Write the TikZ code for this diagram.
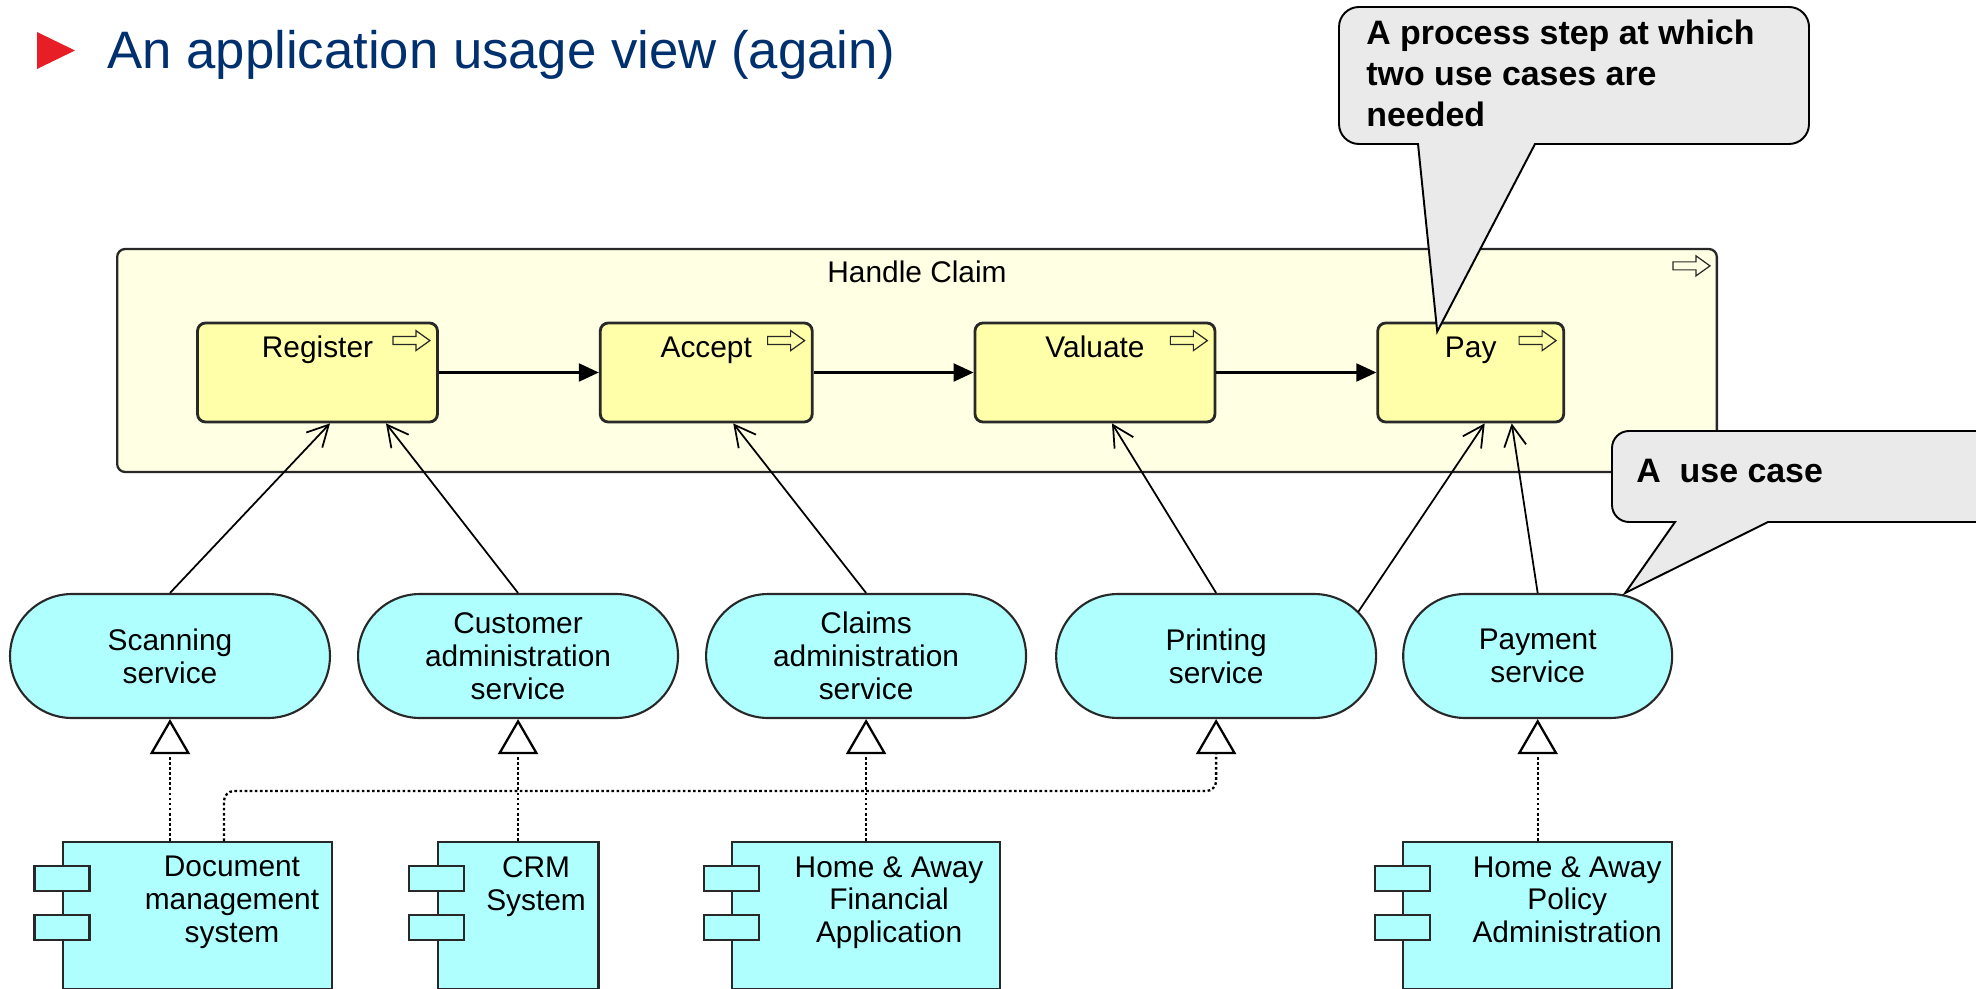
\documentclass[tikz,border=0pt]{standalone}
\usepackage{fontspec}
\setmainfont{Liberation Sans}
\usetikzlibrary{arrows.meta, positioning, calc}

\definecolor{titleblue}{RGB}{0,48,110}
\definecolor{bulletred}{RGB}{232,30,38}
\definecolor{procyellow}{RGB}{255,255,170}
\definecolor{groupyellow}{RGB}{255,255,228}
\definecolor{appcyan}{RGB}{175,255,255}
\definecolor{notegrey}{RGB}{234,234,234}
\definecolor{edgedark}{RGB}{40,40,40}

\newcommand{\diagfont}{\fontsize{17pt}{18.7pt}\selectfont}
\newcommand{\notefont}{\fontsize{19.3pt}{23.2pt}\selectfont\bfseries}

\tikzstyle{groupbox} = [rectangle, rounded corners=0.16cm, draw=edgedark, line width=1.3pt, fill=groupyellow, minimum width=32cm, minimum height=4.46cm]
\tikzstyle{stepbox} = [rectangle, rounded corners=0.16cm, draw=edgedark, line width=1.6pt, fill=procyellow, minimum height=1.98cm]
\tikzstyle{servicebox} = [rectangle, rounded corners=1.24cm, draw=edgedark, line width=1.2pt, fill=appcyan, minimum width=6.4cm, minimum height=2.48cm, align=center, font=\diagfont]
\tikzstyle{appbox} = [rectangle, draw=edgedark, line width=1.2pt, fill=appcyan, minimum height=2.94cm]
\tikzstyle{apptab} = [rectangle, draw=edgedark, line width=1.2pt, fill=appcyan, minimum width=1.1cm, minimum height=0.5cm, inner sep=0pt]
\tikzstyle{boxtext} = [inner sep=0pt, align=center, font=\diagfont]
\tikzstyle{notebox} = [draw=black, line width=1.1pt, fill=notegrey]
\tikzstyle{notetext} = [inner sep=0pt, anchor=north west, align=left, font=\notefont]
\tikzstyle{flow} = [line width=1.2pt, -{Triangle[length=0.4cm, width=0.36cm]}]
\tikzstyle{serves} = [line width=1pt, -{Straight Barb[length=0.42cm, width=0.44cm]}]
\tikzstyle{realizes} = [line width=1.3pt, dash pattern=on 1.5pt off 1.4pt, -{Triangle[open, length=0.7cm, width=0.8cm, fill=white]}]
\tikzset{procicon/.pic={\draw[line width=0.7pt, edgedark] (-37,6) -- (-14,6) -- (-14,0) -- (0,10) -- (-14,20) -- (-14,14) -- (-37,14) -- cycle;}}

\begin{document}
\begin{tikzpicture}[x=0.02cm, y=-0.02cm]

\fill[white] (0,0) rectangle (1976,989);
\useasboundingbox (0,0) rectangle (1976,989);

% Title
\fill[bulletred] (37,32) -- (75,50.5) -- (37,69) -- cycle;
\node (title) [anchor=base west, inner sep=0pt, text=titleblue, font=\fontsize{30pt}{36pt}\selectfont] at (107,69) {An application usage view (again)};

% Business process with its steps
\node (claim) [groupbox] at (917,360.5) {};
\node (claim-text) [boxtext, anchor=base] at ([yshift=-0.7cm]claim.north) {Handle Claim};
\pic at ([xshift=-0.16cm,yshift=-0.16cm]claim.north east) {procicon};

\node (reg) [stepbox, minimum width=4.8cm] at (317.5,372.5) {};
\node (acc) [stepbox, minimum width=4.24cm, right=3.2cm of reg] {};
\node (val) [stepbox, minimum width=4.8cm, right=3.2cm of acc] {};
\node (pay) [stepbox, minimum width=3.72cm, right=3.2cm of val] {};

\node (reg-text) [boxtext, anchor=base] at ([yshift=-0.72cm]reg.north) {Register};
\node (acc-text) [boxtext, anchor=base] at ([yshift=-0.72cm]acc.north) {Accept};
\node (val-text) [boxtext, anchor=base] at ([yshift=-0.72cm]val.north) {Valuate};
\node (pay-text) [boxtext, anchor=base] at ([yshift=-0.72cm]pay.north) {Pay};
\foreach \s in {reg,acc,val,pay}
  \pic at ([xshift=-0.18cm,yshift=-0.18cm]\s.north east) {procicon};

% Application services
\node (scan) [servicebox] at (170,656) {Scanning\\service};
\node (cust) [servicebox, right=0.52cm of scan] {Customer\\administration\\service};
\node (clm) [servicebox, right=0.52cm of cust] {Claims\\administration\\service};
\node (print) [servicebox, right=0.56cm of clm] {Printing\\service};
\node (paysvc) [servicebox, minimum width=5.38cm, right=0.5cm of print] {Payment\\service};

% Application components
\node (docsys) [appbox, minimum width=5.38cm, below=2.44cm of scan, xshift=0.55cm] {};
\node (crm) [appbox, minimum width=3.22cm, below=2.44cm of cust] {};
\node (haf) [appbox, minimum width=5.36cm, below=2.44cm of clm] {};
\node (hap) [appbox, minimum width=5.38cm, below=2.44cm of paysvc] {};
\foreach \c in {docsys,crm,haf,hap} {
  \node (\c-tab1) [apptab] at ([yshift=-0.75cm]\c.north west) {};
  \node (\c-tab2) [apptab] at ([yshift=-1.73cm]\c.north west) {};
}
\node (docsys-text) [boxtext, anchor=north] at ([xshift=0.69cm,yshift=-0.3cm]docsys.north) {Document\\management\\system};
\node (crm-text) [boxtext, anchor=north] at ([xshift=0.36cm,yshift=-0.3cm]crm.north) {CRM\\System};
\node (haf-text) [boxtext, anchor=north] at ([xshift=0.46cm,yshift=-0.3cm]haf.north) {Home \& Away\\Financial\\Application};
\node (hap-text) [boxtext, anchor=north] at ([xshift=0.59cm,yshift=-0.3cm]hap.north) {Home \& Away\\Policy\\Administration};

% Triggering between steps
\draw [flow] (reg) -- (acc);
\draw [flow] (acc) -- (val);
\draw [flow] (val) -- (pay);

% Services used by the steps
\draw [serves] (scan.north) -- ([xshift=0.25cm]reg.south);
\draw [serves] (cust.north) -- ([xshift=1.37cm]reg.south);
\draw [serves] (clm.north) -- ([xshift=0.54cm]acc.south);
\draw [serves] (print.north) -- ([xshift=0.34cm]val.south);
\draw [serves] ([xshift=-0.38cm,yshift=-0.38cm]print.north east) -- ([xshift=0.28cm]pay.south);
\draw [serves] (paysvc.north) -- ([xshift=0.82cm]pay.south);

% Components realizing the services
\draw [realizes] (scan.south |- docsys.north) -- (scan.south);
\draw [realizes] (cust.south |- crm.north) -- (cust.south);
\draw [realizes] (clm.south |- haf.north) -- (clm.south);
\draw [realizes] (paysvc.south |- hap.north) -- (paysvc.south);
\draw [realizes, rounded corners=0.2cm] ([xshift=0.53cm]docsys.north) |- ([yshift=-1.44cm]print.south) -- (print.south);

% Callouts
\coordinate (note1-tip) at ([xshift=-0.67cm,yshift=-0.2cm]pay.north);
\coordinate (note2-tip) at ([xshift=-0.96cm]paysvc.north east);
\draw [notebox] (note1-tip) -- (1418,144) [rounded corners=0.4cm] -- (1339,144) -- (1339,7) -- (1809,7) -- (1809,144) [sharp corners] -- (1535,144) -- cycle;
\node (note1-text) [notetext] at (1366,20) {A process step at which\\two use cases are\\needed};
\draw [notebox] (note2-tip) -- (1675,522) [rounded corners=0.34cm] -- (1612,522) -- (1612,431) -- (1995,431) -- (1995,522) [sharp corners] -- (1768,522) -- cycle;
\node (note2-text) [notetext] at (1636,459) {A\ \ use case};

\end{tikzpicture}
\end{document}
